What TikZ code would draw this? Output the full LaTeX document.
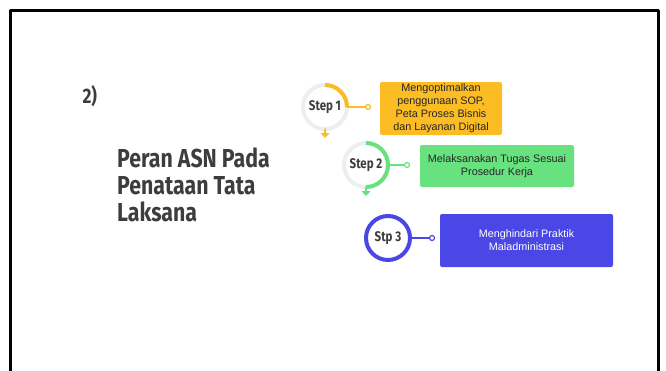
\documentclass[tikz,border=0pt]{standalone}
\usepackage{fontspec}
\setmainfont{Liberation Sans}
\newfontfamily\headfont[FakeStretch=0.82]{Fira Sans}
\usetikzlibrary{arrows.meta,positioning}
\definecolor{stepyellow}{HTML}{FBBC24}
\definecolor{stepgreen}{HTML}{68E27F}
\definecolor{stepblue}{HTML}{4A47E6}
\definecolor{ringgray}{HTML}{EEEEEE}
\definecolor{headgray}{HTML}{3D3D3D}

\begin{document}
\begin{tikzpicture}[x=1pt,y=-1pt,line cap=round,line join=round,
  ring/.style={circle,draw=ringgray,minimum size=44pt,inner sep=0pt,outer sep=0pt,line width=4pt,
    font=\headfont\bfseries\fontsize{14}{14}\selectfont,text=headgray},
  dotend/.style={circle,draw,fill=white,line width=1.2pt,minimum size=5pt,inner sep=0pt,outer sep=0pt},
  stepbox/.style={rounded corners=2pt,inner sep=0pt,align=center,text=black!85,font=\fontsize{10.8}{13}\selectfont},
  tail/.style={line width=2pt,-{Triangle[length=5pt,width=9pt]}},
  heading/.style={text=headgray,font=\headfont\bfseries\fontsize{#1}{#1}\selectfont}]
  \useasboundingbox (0,0) rectangle (666,370);
  \draw[line width=2.5pt,line cap=butt] (10.5,380) -- (10.5,10.5) -- (658.5,10.5) -- (658.5,380);

  \node[heading=21,anchor=base west] (num) at (79,103) {2)};
  \node[heading=26,anchor=north west,align=left,inner sep=0pt] (title) at (117,148)
    {Peran ASN Pada\\[1pt]Penataan Tata\\[1pt]Laksana};

  \node[ring] (s1) at (325,107) {Step 1};
  \node[ring] (s2) at (366,165) {Step 2};
  \node[ring,draw=stepblue] (s3) at (388,238) {Stp 3};

  \draw[stepyellow,line width=4pt,line cap=butt] (s1.north) arc[start angle=90,end angle=0,radius=22pt];
  \draw[stepgreen,line width=4pt,line cap=butt] (s2.north) arc[start angle=90,end angle=-90,radius=22pt];
  \draw[tail,stepyellow] (s1.south) -- ++(0,9);
  \draw[tail,stepgreen] (s2.south) -- ++(0,9);

  \node[stepbox,fill=stepyellow,minimum width=122pt,minimum height=53pt] (b1) at (441,108.5)
    {Mengoptimalkan\\penggunaan SOP,\\Peta Proses Bisnis\\dan Layanan Digital};
  \node[stepbox,fill=stepgreen,minimum width=154pt,minimum height=42pt] (b2) at (497,166)
    {Melaksanakan Tugas Sesuai\\Prosedur Kerja};
  \node[stepbox,fill=stepblue,text=white,minimum width=173pt,minimum height=53pt] (b3) at (526.5,240.5)
    {Menghindari Praktik\\Maladministrasi};

  \node[dotend,draw=stepyellow] (d1) at (368,107) {};
  \node[dotend,draw=stepgreen] (d2) at (407,165) {};
  \node[dotend,draw=stepblue] (d3) at (432,238) {};
  \draw[stepyellow,line width=1.5pt] (s1.east) -- (d1.west);
  \draw[stepgreen,line width=1.5pt] (s2.east) -- (d2.west);
  \draw[stepblue,line width=1.5pt] (s3.east) -- (d3.west);

\end{tikzpicture}
\end{document}
